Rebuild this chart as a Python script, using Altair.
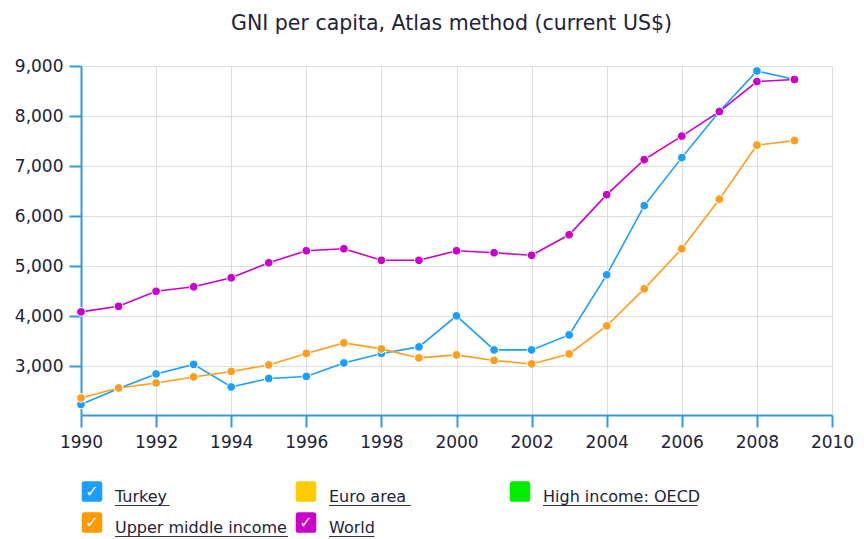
import altair as alt
import pandas as pd

years = list(range(1990, 2010))
turkey = [2240, 2560, 2850, 3040, 2590, 2760, 2800, 3070, 3260, 3390,
          4010, 3330, 3330, 3630, 4830, 6210, 7170, 8090, 8900, 8730]
upper_middle = [2370, 2570, 2670, 2790, 2900, 3030, 3260, 3470, 3350, 3170,
                3230, 3120, 3050, 3250, 3810, 4550, 5350, 6340, 7420, 7510]
world = [4090, 4200, 4500, 4590, 4770, 5070, 5310, 5350, 5120, 5120,
         5310, 5270, 5220, 5630, 6430, 7130, 7600, 8090, 8690, 8730]

series_names = ["Turkey", "Upper middle income", "World"]
series_colors = ["#1a9fff", "#ff9e1a", "#cc00cc"]

legend_labels = ["Turkey", "Euro area", "High income: OECD", "Upper middle income", "World"]
legend_colors = ["#1a9fff", "#ffcc00", "#00ee00", "#ff9900", "#cc00cc"]
legend_checked = [True, False, False, True, True]
legend_col = [0, 1, 2, 0, 1]
legend_row = [0, 0, 0, 1, 1]

x_ticks = list(range(1990, 2011, 2))
y_ticks = [3000, 4000, 5000, 6000, 7000, 8000, 9000]

FONT = "DejaVu Sans"
AXIS_COLOR = "#3399dd"
TEXT_COLOR = "#22223a"
ROUNDED_SQUARE = ("M -1 -0.72 Q -1 -1 -0.72 -1 L 0.72 -1 Q 1 -1 1 -0.72 L 1 0.72 "
                  "Q 1 1 0.72 1 L -0.72 1 Q -1 1 -1 0.72 Z")

rows = []
for name, vals in zip(series_names, [turkey, upper_middle, world]):
    for yr, v in zip(years, vals):
        rows.append({"year": yr, "value": v, "series": name})
df = pd.DataFrame(rows)

W, H = 751, 349

base = alt.Chart(df).encode(
    x=alt.X("year:Q", scale=alt.Scale(domain=[1990, 2010], nice=False),
            axis=alt.Axis(values=x_ticks, format="d", title=None, labelFlush=False)),
    y=alt.Y("value:Q", scale=alt.Scale(domain=[2030, 9000], nice=False, zero=False),
            axis=alt.Axis(values=y_ticks, format=",.0f", title=None, labelFlush=False)),
    color=alt.Color("series:N", scale=alt.Scale(domain=series_names, range=series_colors), legend=None),
    detail="series:N",
)

lines = base.mark_line(strokeWidth=1.6)
points = base.mark_circle(size=75, opacity=1, stroke="white", strokeWidth=1)

main = alt.layer(lines, points).properties(
    width=W, height=H,
    title=alt.TitleParams("GNI per capita, Atlas method (current US$)", font=FONT, fontSize=20.5,
                          fontWeight="normal", color=TEXT_COLOR, offset=23, dx=-5),
)

# legend
SPACING = 214.0
LEFT = 11.0
leg = pd.DataFrame({"label": legend_labels, "color": legend_colors, "checked": legend_checked,
                    "col": legend_col, "row": legend_row})
xs = alt.Scale(domain=[-LEFT / SPACING, (W - LEFT) / SPACING], nice=False, zero=False)
ys = alt.Scale(domain=[-0.5, 1.5], reverse=True, nice=False, zero=False)
lb = alt.Chart(leg).encode(
    x=alt.X("col:Q", scale=xs, axis=None),
    y=alt.Y("row:Q", scale=ys, axis=None),
)
squares = lb.mark_point(shape=ROUNDED_SQUARE, filled=True, size=420, opacity=1).encode(
    color=alt.Color("color:N", scale=None))
checks = lb.transform_filter("datum.checked").mark_text(
    text="✓", color="white", fontSize=16, font=FONT, dy=0)
texts = lb.mark_text(align="left", baseline="middle", dx=23, dy=5, fontSize=16, font=FONT,
                     color=TEXT_COLOR).encode(text="label:N")
underlines = lb.transform_calculate(
    x2=f"datum.col + length(datum.label) * 9.1 / {SPACING}"
).mark_rule(color="#333344", strokeWidth=1, xOffset=23, x2Offset=23, yOffset=14).encode(
    x2="x2:Q")

legend = alt.layer(squares, checks, texts, underlines).properties(width=W, height=62)

chart = alt.vconcat(main, legend, spacing=61, bounds="flush").properties(
    autosize=alt.AutoSizeParams(type="none"),
    padding={"top": 58, "left": 73, "right": 24, "bottom": 473},
).configure_view(stroke=None).configure_axis(
    domainColor=AXIS_COLOR, domainWidth=2, tickColor=AXIS_COLOR, tickWidth=2, tickSize=12,
    gridColor="#dddddd", gridWidth=1, labelFont=FONT, labelFontSize=17, labelColor=TEXT_COLOR,
    labelPadding=6,
).configure_axisX(labelPadding=7)

chart.save("out.html", embed_options={"renderer": "svg", "actions": False})
